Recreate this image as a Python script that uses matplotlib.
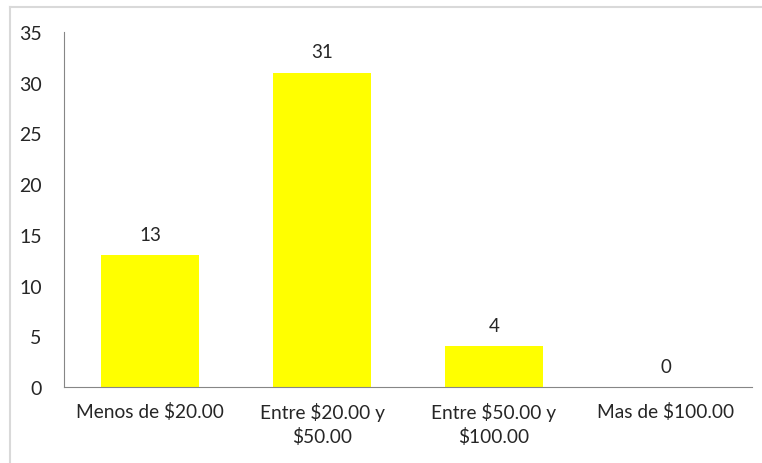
import matplotlib.pyplot as plt
from matplotlib.lines import Line2D

categories = ["Menos de $20.00", "Entre $20.00 y\n$50.00", "Entre $50.00 y\n$100.00", "Mas de $100.00"]
values = [13, 31, 4, 0]
yticks = [0, 5, 10, 15, 20, 25, 30, 35]

plt.rcParams['font.family'] = ['Lato', 'DejaVu Sans']
text_color = "#262626"

fig = plt.figure(figsize=(7.62, 4.64), dpi=100)
ax = fig.add_axes([64 / 762, 76 / 464, 688 / 762, 355 / 464])

x = range(len(categories))
bars = ax.bar(x, values, width=0.565, color="#ffff00")
for xi, v in zip(x, values):
    ax.text(xi, v + 1.2, str(v), ha="center", va="bottom", fontsize=13.5, color=text_color)

ax.set_xlim(-0.5, 3.5)
ax.set_ylim(0, 35)
ax.set_yticks(yticks)
ax.set_xticks(list(x))
ax.set_xticklabels(categories, fontsize=13.8, color=text_color, linespacing=1.35)
ax.tick_params(axis="y", labelsize=14, labelcolor=text_color, length=0, pad=16)
ax.tick_params(axis="x", length=0, pad=11)

for side in ["top", "right"]:
    ax.spines[side].set_visible(False)
ax.spines["left"].set_color("#868686")
ax.spines["bottom"].set_color("#868686")

# outer chart border
fig.add_artist(Line2D([10 / 762, 1], [1 - 8 / 464, 1 - 8 / 464], color="#d9d9d9", lw=1.5,
                      transform=fig.transFigure))
fig.add_artist(Line2D([10 / 762, 10 / 762], [0, 1 - 8 / 464], color="#d9d9d9", lw=1.5,
                      transform=fig.transFigure))

fig.savefig("out.png", dpi=100)
